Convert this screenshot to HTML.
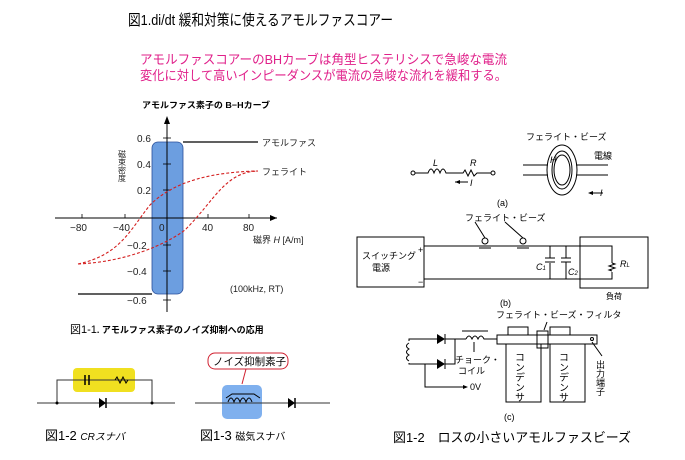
<!DOCTYPE html>
<html><head><meta charset="utf-8"><style>
body{margin:0;background:#fff}
svg{display:block}
text{font-family:"Liberation Sans","Noto Sans CJK JP",sans-serif}
</style></head><body>
<svg width="685" height="460" viewBox="0 0 685 460" xmlns="http://www.w3.org/2000/svg">
<text x="128" y="25" font-size="15" textLength="265" lengthAdjust="spacingAndGlyphs">図1.di/dt 緩和対策に使えるアモルファスコアー</text>
<text x="140" y="64" font-size="13" fill="#e0208a" textLength="367" lengthAdjust="spacingAndGlyphs">アモルファスコアーのBHカーブは角型ヒステリシスで急峻な電流</text>
<text x="140" y="80" font-size="13" fill="#e0208a" textLength="367" lengthAdjust="spacingAndGlyphs">変化に対して高いインピーダンスが電流の急峻な流れを緩和する。</text>

<!-- BH graph -->
<text x="142" y="108" font-size="8.5" font-weight="bold" textLength="128" lengthAdjust="spacingAndGlyphs">アモルファス素子の B−Hカーブ</text>
<rect x="152" y="142" width="31" height="152" rx="6" fill="#6c9ee0" stroke="#2a4f9a" stroke-width="0.8"/>
<line x1="55" y1="218" x2="277" y2="218" stroke="#000"/>
<polygon points="277,218 270,215 270,221"/>
<line x1="167" y1="312" x2="167" y2="118" stroke="#000"/>
<polygon points="167,116 164,124 170,124"/>
<g stroke="#000" stroke-width="0.8">
<line x1="163" y1="138" x2="171" y2="138"/><line x1="163" y1="164" x2="171" y2="164"/><line x1="163" y1="190" x2="171" y2="190"/>
<line x1="163" y1="245" x2="171" y2="245"/><line x1="163" y1="271" x2="171" y2="271"/><line x1="163" y1="300" x2="171" y2="300"/>
<line x1="82" y1="214" x2="82" y2="218"/><line x1="125" y1="214" x2="125" y2="218"/><line x1="208" y1="214" x2="208" y2="218"/><line x1="249" y1="214" x2="249" y2="218"/>
</g>
<g font-size="10" fill="#222">
<text x="137" y="142">0.6</text><text x="137" y="168">0.4</text><text x="137" y="194">0.2</text>
<text x="127" y="249">−0.2</text><text x="127" y="275">−0.4</text><text x="127" y="304">−0.6</text>
<text x="70" y="231">−80</text><text x="113" y="231">−40</text><text x="159" y="231">0</text><text x="202" y="231">40</text><text x="243" y="231">80</text>
<text x="253" y="243" font-size="9">磁界 <tspan font-style="italic">H</tspan> [A/m]</text>
<text x="230" y="292" font-size="9">(100kHz, RT)</text>
<text x="262" y="146" font-size="9">アモルファス</text>
<text x="262" y="175" font-size="9">フェライト</text>
</g>
<text x="122" y="150" font-size="8" writing-mode="tb" fill="#222">磁束密度</text>
<path d="M183,142 L258,142 M78,294 L152,294" stroke="#000" stroke-width="1.2" fill="none"/>
<path d="M78,264 C120,255 130,230 150,205 C175,180 215,172 258,171" stroke="#d42020" stroke-dasharray="3,2" fill="none" stroke-width="1.1"/>
<path d="M78,264 C125,262 165,245 185,230 C215,200 225,172 258,171" stroke="#d42020" stroke-dasharray="3,2" fill="none" stroke-width="1.1"/>
<text x="70" y="333" font-size="11">図1-1<tspan font-size="9" font-weight="bold">. アモルファス素子のノイズ抑制への応用</tspan></text>

<!-- CR snubber -->
<rect x="73" y="368" width="62" height="24" rx="4" fill="#f0e020"/>
<g stroke="#333" fill="none" stroke-width="1">
<line x1="37" y1="403" x2="175" y2="403"/>
<path d="M57,403 V380 H152 V403"/>
</g>
<line x1="85" y1="375" x2="85" y2="385" stroke="#000" stroke-width="1.5"/><line x1="89" y1="375" x2="89" y2="385" stroke="#000" stroke-width="1.5"/>
<path d="M115,380 l2,-3 l3,6 l3,-6 l3,6 l2,-3" stroke="#000" fill="none"/>
<polygon points="99,398 99,408 106,403" fill="#000"/><line x1="106" y1="398" x2="106" y2="408" stroke="#000" stroke-width="1.5"/>
<circle cx="57" cy="403" r="1.5"/><circle cx="152" cy="403" r="1.5"/>
<text x="45" y="440" font-size="13">図1-2 <tspan font-size="10" font-style="italic">CRスナバ</tspan></text>

<!-- magnetic snubber -->
<rect x="222" y="385" width="40" height="34" rx="5" fill="#7fb0ee"/>
<line x1="195" y1="403" x2="330" y2="403" stroke="#333"/>
<path d="M228,402 q3,-8 6,0 q3,-8 6,0 q3,-8 6,0 q3,-8 6,0" stroke="#000" fill="#7fb0ee"/>
<path d="M226,398 l6,-4 h22 l6,4" stroke="#000" fill="none"/>
<polygon points="288,398 288,408 295,403"/><line x1="295" y1="398" x2="295" y2="408" stroke="#000" stroke-width="1.5"/>
<rect x="208" y="353" width="80" height="16" rx="7" fill="#fff" stroke="#d02030"/>
<text x="213" y="365" font-size="10.5">ノイズ抑制素子</text>
<path d="M246,369 L242,384" stroke="#d02030"/>
<text x="200" y="440" font-size="13">図1-3 <tspan font-size="10">磁気スナバ</tspan></text>

<!-- right (a) -->
<g stroke="#000" fill="none" stroke-width="1">
<circle cx="413" cy="173" r="2"/><circle cx="493" cy="173" r="2"/>
<path d="M415,173 H428 q3,-8 6,0 q3,-8 6,0 q3,-8 6,0 H463 l2,-3 l3,6 l3,-6 l3,6 l3,-3 H491"/>
<path d="M468,182 H455"/>
<path d="M523,165 H548 M523,175 H548 M576,165 H608 M576,175 H608"/>
<ellipse cx="562" cy="170" rx="15" ry="25"/>
<ellipse cx="562" cy="170" rx="8" ry="15"/>
<ellipse cx="562" cy="170" rx="10" ry="19"/>
<path d="M603,193 H590"/>
</g>
<polygon points="455,182 460,180 460,184"/><polygon points="588,193 593,191 593,195"/>
<g font-size="9" font-style="italic"><text x="433" y="166">L</text><text x="470" y="166">R</text><text x="470" y="186">I</text><text x="550" y="163">H</text><text x="600" y="196">I</text></g>
<text x="526" y="140" font-size="9">フェライト・ビーズ</text>
<text x="594" y="159" font-size="9">電線</text>
<text x="497" y="206" font-size="9">(a)</text>

<!-- (b) -->
<g stroke="#000" fill="none" stroke-width="1">
<rect x="357" y="237" width="67" height="50"/>
<rect x="580" y="237" width="68" height="51"/>
<path d="M424,246 H612 V263 M612,272 V279 H424"/>
<path d="M612,263 l3,1 l-6,2 l6,2 l-6,2 l3,1"/>
<path d="M550,246 V258 M550,263 V279 M545,258 H555 M545,262 H555 M566,246 V258 M566,262 V279 M561,258 H571 M561,262 H571"/>
<circle cx="485" cy="241" r="3"/><circle cx="523" cy="241" r="3"/>
<path d="M479,248 H491 M517,248 H529 M485,238 L475,222 M523,238 L505,222"/>
</g>
<text x="465" y="221" font-size="9">フェライト・ビーズ</text>
<text x="362" y="259" font-size="9">スイッチング</text><text x="372" y="271" font-size="9">電源</text>
<text x="418" y="253" font-size="9">+</text><text x="418" y="285" font-size="9">−</text>
<text x="536" y="270" font-size="9" font-style="italic">C<tspan font-size="6">1</tspan></text>
<text x="568" y="275" font-size="9" font-style="italic">C<tspan font-size="6">2</tspan></text>
<text x="620" y="267" font-size="9" font-style="italic">R<tspan font-size="6">L</tspan></text>
<text x="606" y="299" font-size="8">負荷</text>
<text x="500" y="306" font-size="9">(b)</text>

<!-- (c) -->
<text x="496" y="318" font-size="9">フェライト・ビーズ・フィルタ</text>
<g stroke="#000" fill="none" stroke-width="1">
<path d="M409,343 q-5,3 0,6 q-5,3 0,6 q-5,3 0,6"/>
<path d="M409,341 V339 H437 M409,363 V364 H437 M425,343 q0,0 0,0"/>
<path d="M445,339 H466 M445,364 H455 V339 M425,364 V387 H465"/>
<path d="M466,339 q3,-6 6,0 q3,-6 6,0 q3,-6 6,0 H497"/>
<path d="M462,331 H488 M474,352 V342"/>
<rect x="497" y="335" width="100" height="9"/>
<rect x="506" y="344" width="35" height="58"/><rect x="550" y="344" width="35" height="58"/>
<rect x="508" y="327" width="20" height="8"/><rect x="550" y="327" width="20" height="8"/>
<rect x="537" y="331" width="11" height="17"/>
<circle cx="592" cy="339" r="1.5"/>
<path d="M544,330 L547,322 M592,342 L602,356"/>
</g>
<polygon points="437,334 437,344 445,339"/><line x1="445" y1="334" x2="445" y2="344" stroke="#000"/>
<polygon points="437,359 437,369 445,364"/><line x1="445" y1="359" x2="445" y2="369" stroke="#000"/>
<polygon points="468,387 463,385 463,389"/>
<text x="470" y="390" font-size="9">0V</text>
<text x="455" y="363" font-size="9">チョーク・</text><text x="458" y="374" font-size="9">コイル</text>
<text x="518" y="352" font-size="10" writing-mode="tb">コンデンサ</text>
<text x="562" y="352" font-size="10" writing-mode="tb">コンデンサ</text>
<text x="600" y="360" font-size="9" writing-mode="tb">出力端子</text>
<text x="504" y="420" font-size="9">(c)</text>
<text x="393" y="442" font-size="13" textLength="238" lengthAdjust="spacingAndGlyphs">図1-2　ロスの小さいアモルファスビーズ</text>
</svg>
</body></html>
